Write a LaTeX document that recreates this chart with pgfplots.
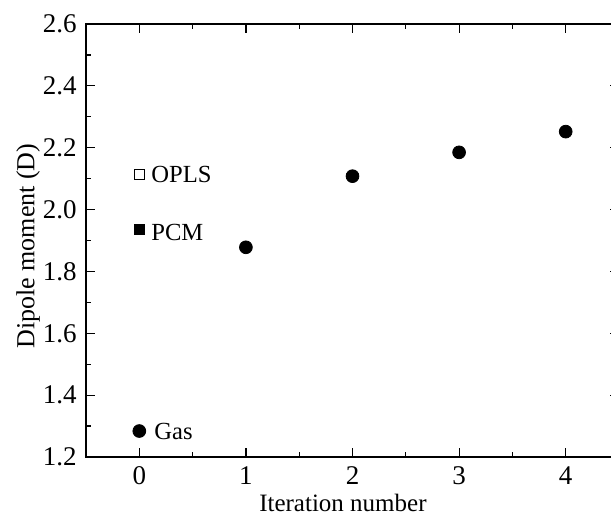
\documentclass[border=0pt]{standalone}
\usepackage{pgfplots}
\pgfplotsset{compat=1.18}
\usepackage{fontspec}
\setmainfont{Liberation Serif}

\begin{document}
\begin{tikzpicture}
\begin{axis}[
  scale only axis,
  width=266.5pt, height=216.5pt,
  xmin=-0.5, xmax=4.5, ymin=1.2, ymax=2.6,
  xtick={0,1,2,3,4},
  ytick={1.2,1.4,1.6,1.8,2.0,2.2,2.4,2.6},
  minor x tick num=1, minor y tick num=1,
  tick align=inside,
  major tick length=4.5pt, minor tick length=2.4pt,
  axis line style={line width=0.6pt},
  every tick/.style={black, line width=0.6pt},
  /pgf/number format/assume math mode=true,
  tick label style={font=\fontsize{13.5}{15}\selectfont},
  yticklabel style={/pgf/number format/fixed, /pgf/number format/fixed zerofill,
    /pgf/number format/precision=1, xshift=-1.2pt},
  xticklabel style={yshift=-1.2pt},
  xlabel={Iteration number},
  ylabel={Dipole moment (D)},
  label style={font=\fontsize{12.5}{14}\selectfont},
  xlabel style={at={(axis description cs:0.482,0)}, anchor=base, yshift=-27pt},
  ylabel style={at={(axis description cs:0,0.487)}, anchor=center, yshift=29pt,
    font=\fontsize{13}{15}\selectfont},
]
  % iterations
  \addplot[only marks, mark=*, mark size=3.2pt, black] coordinates {
    (1,1.878) (2,2.108) (3,2.185) (4,2.252)
  };
  % reference values at iteration 0
  \addplot[only marks, mark=*, mark size=3.2pt, black] coordinates {(0,1.284)}
    node[right, xshift=4pt, font=\fontsize{12.3}{14}\selectfont] {Gas};
  \addplot[only marks, mark=square*, mark size=2.5pt, black] coordinates {(0,1.936)}
    node[right, xshift=2.5pt, yshift=-1.5pt, font=\fontsize{12.3}{14}\selectfont] {PCM};
  \addplot[only marks, mark=square, mark size=2.5pt, black, mark options={line width=0.5pt}] coordinates {(0,2.114)}
    node[right, xshift=2.5pt, font=\fontsize{12.3}{14}\selectfont] {OPLS};
\end{axis}
\pgfresetboundingbox
\path[use as bounding box] ([xshift=-43pt,yshift=-30pt]current axis.south west)
  rectangle ([xshift=-4pt,yshift=12pt]current axis.north east);
\end{tikzpicture}
\end{document}
